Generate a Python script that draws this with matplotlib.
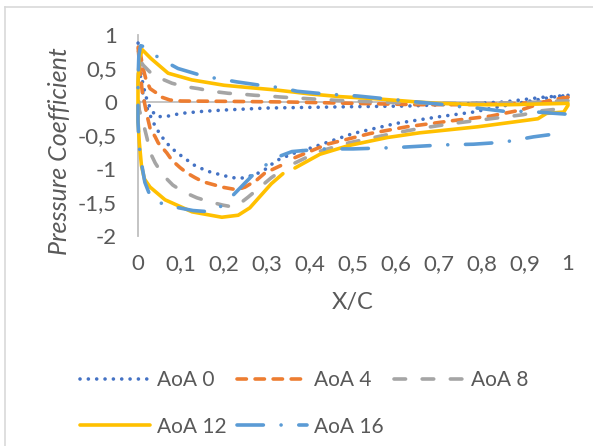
import numpy as np
import matplotlib
matplotlib.use("Agg")
import matplotlib.pyplot as plt
from matplotlib.lines import Line2D

plt.rcParams['font.family'] = ['Lato', 'DejaVu Sans']

# pressure coefficient loops, trailing edge -> leading edge -> trailing edge
x_aoa0 = [1.0, 0.94, 0.85, 0.75, 0.63, 0.5, 0.4, 0.3, 0.2, 0.15, 0.1, 0.07, 0.045, 0.03, 0.02, 0.012, 0.005, 0.0,
          0.003, 0.008, 0.015, 0.025, 0.035, 0.05, 0.065, 0.08, 0.1, 0.13, 0.16, 0.2, 0.23, 0.25, 0.28, 0.3,
          0.32, 0.36, 0.4, 0.45, 0.5, 0.6, 0.7, 0.78, 0.84, 0.9, 0.96, 1.0]
cp_aoa0 = [0.10, 0.07, 0.0, -0.03, -0.06, -0.07, -0.08, -0.09, -0.12, -0.14, -0.17, -0.21, -0.22, -0.12, 0.05, 0.25, 0.5, 0.9,
           0.55, 0.25, 0.0, -0.15, -0.3, -0.47, -0.6, -0.7, -0.8, -0.94, -1.03, -1.1, -1.14, -1.13, -1.06, -0.99,
           -0.88, -0.77, -0.69, -0.58, -0.47, -0.32, -0.22, -0.15, -0.07, 0.0, 0.07, 0.10]

x_aoa4 = [1.0, 0.95, 0.85, 0.75, 0.65, 0.5, 0.35, 0.2, 0.1, 0.074, 0.056, 0.044, 0.028, 0.018, 0.01, 0.005, 0.0,
          0.004, 0.01, 0.016, 0.021, 0.028, 0.04, 0.047, 0.067, 0.079, 0.098, 0.114, 0.133, 0.151, 0.179, 0.195,
          0.23, 0.249, 0.277, 0.295, 0.335, 0.35, 0.365, 0.44, 0.54, 0.625, 0.73, 0.82, 0.89, 0.96, 1.0]
cp_aoa4 = [0.07, 0.0, -0.03, -0.04, -0.04, -0.02, 0.0, 0.01, 0.015, 0.03, 0.07, 0.13, 0.2, 0.35, 0.55, 0.75, 0.85,
           0.5, 0.15, -0.04, -0.2, -0.39, -0.52, -0.61, -0.76, -0.87, -0.98, -1.06, -1.13, -1.19, -1.24, -1.27,
           -1.31, -1.27, -1.16, -1.06, -0.94, np.nan, -0.83, -0.63, -0.47, -0.37, -0.28, -0.21, -0.12, 0.03, 0.07]

x_aoa8 = [1.0, 0.9, 0.74, 0.6, 0.477, 0.407, 0.33, 0.302, 0.272, 0.237, 0.21, 0.172, 0.14, 0.109, 0.079, 0.035,
          0.012, 0.005, 0.001, 0.0,
          0.003, 0.012, 0.021, 0.028, 0.04, 0.058, 0.081, 0.105, 0.137, 0.167, 0.198, 0.215, 0.23, 0.256, 0.284,
          0.31, 0.337, 0.35, 0.365, 0.42, 0.49, 0.6, 0.66, 0.745, 0.82, 0.895, 0.94, 1.0]
cp_aoa8 = [0.02, -0.01, -0.02, -0.01, 0.02, 0.045, 0.075, 0.09, 0.10, 0.12, 0.13, 0.16, 0.20, 0.23, 0.28, 0.40,
           0.55, 0.62, 0.5, 0.2,
           -0.12, -0.31, -0.54, -0.75, -0.91, -1.09, -1.24, -1.34, -1.43, -1.49, -1.54, -1.56, -1.55, -1.42, -1.27,
           -1.13, -1.01, np.nan, -0.91, -0.74, -0.61, -0.46, -0.39, -0.31, -0.25, -0.19, -0.13, -0.09]

x_aoa12 = [1.0, 0.865, 0.79, 0.7, 0.65, 0.55, 0.47, 0.4, 0.32, 0.25, 0.2, 0.125, 0.07, 0.03, 0.01, 0.003, 0.0,
           0.0, 0.003, 0.008, 0.015, 0.028, 0.063, 0.126, 0.195, 0.233, 0.26, 0.285, 0.31, 0.337, 0.35, 0.365,
           0.423, 0.49, 0.58, 0.655, 0.79, 0.93, 0.95, 0.99, 1.0]
cp_aoa12 = [-0.02, -0.04, -0.04, -0.02, 0.0, 0.05, 0.08, 0.12, 0.18, 0.22, 0.25, 0.33, 0.43, 0.65, 0.78, 0.65, 0.3,
            -0.27, -0.6, -0.95, -1.15, -1.27, -1.46, -1.64, -1.72, -1.69, -1.58, -1.40, -1.22, -1.07, np.nan, -0.985,
            -0.78, -0.65, -0.53, -0.46, -0.37, -0.25, -0.17, -0.15, -0.05]

x_aoa16 = [0.993, 0.928, 0.893, 0.853, 0.788, 0.749, 0.714, 0.65, 0.58, 0.51, 0.435, 0.37, 0.335, 0.284, 0.23, 0.195,
           0.156, 0.093, 0.05, 0.028, 0.012, 0.006, 0.002, 0.0,
           0.0, 0.002, 0.005, 0.016, 0.03, 0.063, 0.128, 0.17, 0.2, 0.244, 0.27, 0.295, 0.325, 0.358, 0.43, 0.5,
           0.6, 0.71, 0.78, 0.85, 0.92, 0.955]
cp_aoa16 = [-0.18, -0.15, -0.14, -0.14, -0.09, -0.07, -0.04, 0.0, 0.045, 0.09, 0.12, 0.16, 0.21, 0.25, 0.30, 0.34,
            0.38, 0.5, 0.65, 0.76, 0.83, 0.84, 0.7, 0.3,
            -0.3, -0.57, -0.8, -1.2, -1.43, -1.54, -1.62, -1.64, -1.53, -1.24, -1.07, -0.95, -0.82, -0.74, -0.70, -0.70,
            -0.68, -0.64, -0.63, -0.60, -0.52, -0.49]

series_names = ['AoA 0', 'AoA 4', 'AoA 8', 'AoA 12', 'AoA 16']
x_ticks = [0, 0.1, 0.2, 0.3, 0.4, 0.5, 0.6, 0.7, 0.8, 0.9, 1]
x_tick_labels = ['0', '0,1', '0,2', '0,3', '0,4', '0,5', '0,6', '0,7', '0,8', '0,9', '1']
y_ticks = [-2, -1.5, -1, -0.5, 0, 0.5, 1]
y_tick_labels = ['-2', '-1,5', '-1', '-0,5', '0', '0,5', '1']

fig = plt.figure(figsize=(5.93, 4.46), dpi=100)
ax = fig.add_axes([138/593, 1 - 236/446, 430/593, 201/446])

lw = 2.6
styles = [
    dict(color='#4472C4', dashes=(0.01, 2.3)),
    dict(color='#ED7D31', dashes=(2.6, 2.4)),
    dict(color='#A5A5A5', dashes=(3.2, 4.6)),
    dict(color='#FFC000'),
    dict(color='#5B9BD5', dashes=(7.3, 4.9, 0.01, 4.9)),
]
data = [(x_aoa0, cp_aoa0), (x_aoa4, cp_aoa4), (x_aoa8, cp_aoa8), (x_aoa12, cp_aoa12), (x_aoa16, cp_aoa16)]

handles = []
for (xs, cps), name, st in zip(data, series_names, styles):
    line, = ax.plot(xs, cps, lw=lw, label=name, clip_on=False,
                    dash_capstyle='round', solid_capstyle='round', solid_joinstyle='round', **st)
    handles.append(line)

# axis lines as in the spreadsheet chart
ax.axhline(0, color='#BFBFBF', lw=1.3, zorder=0)
for s in ['top', 'right', 'bottom']:
    ax.spines[s].set_visible(False)
ax.spines['left'].set_color('#BFBFBF')
ax.spines['left'].set_linewidth(1.3)
ax.spines['left'].set_zorder(0)

ax.set_xlim(0, 1)
ax.set_ylim(-2, 1)
ax.set_xticks(x_ticks)
ax.set_xticklabels(x_tick_labels)
ax.set_yticks(y_ticks)
ax.set_yticklabels(y_tick_labels)
ax.tick_params(axis='x', length=0, pad=13, labelsize=16, labelcolor='#595959')
ax.tick_params(axis='y', length=0, pad=15, labelsize=16, labelcolor='#595959')

ax.set_xlabel('X/C', fontsize=17, color='#595959', va='top')
ax.xaxis.set_label_coords(0.5, -0.28)
ax.set_ylabel('Pressure Coefficient', fontsize=18, color='#595959', style='italic')
ax.yaxis.set_label_coords(-0.155, 0.423)

# legend in row order like the original (matplotlib fills by column)
order = [0, 3, 1, 4, 2]
fig.legend([handles[i] for i in order], [series_names[i] for i in order],
           loc='upper left', bbox_to_anchor=(80/593, 1 - 370.5/446), ncol=3, frameon=False,
           fontsize=15, labelcolor='#595959', handlelength=3.37, handletextpad=0.34,
           columnspacing=0.48, labelspacing=1.25, borderpad=0, borderaxespad=0)

# chart border (left and top edges visible)
fig.add_artist(Line2D([4.5/593, 4.5/593], [0, 1 - 7/446], color='#D9D9D9', lw=1.2))
fig.add_artist(Line2D([4.5/593, 1], [1 - 7/446, 1 - 7/446], color='#D9D9D9', lw=1.2))

fig.savefig('out.png', dpi=100, facecolor='white')
